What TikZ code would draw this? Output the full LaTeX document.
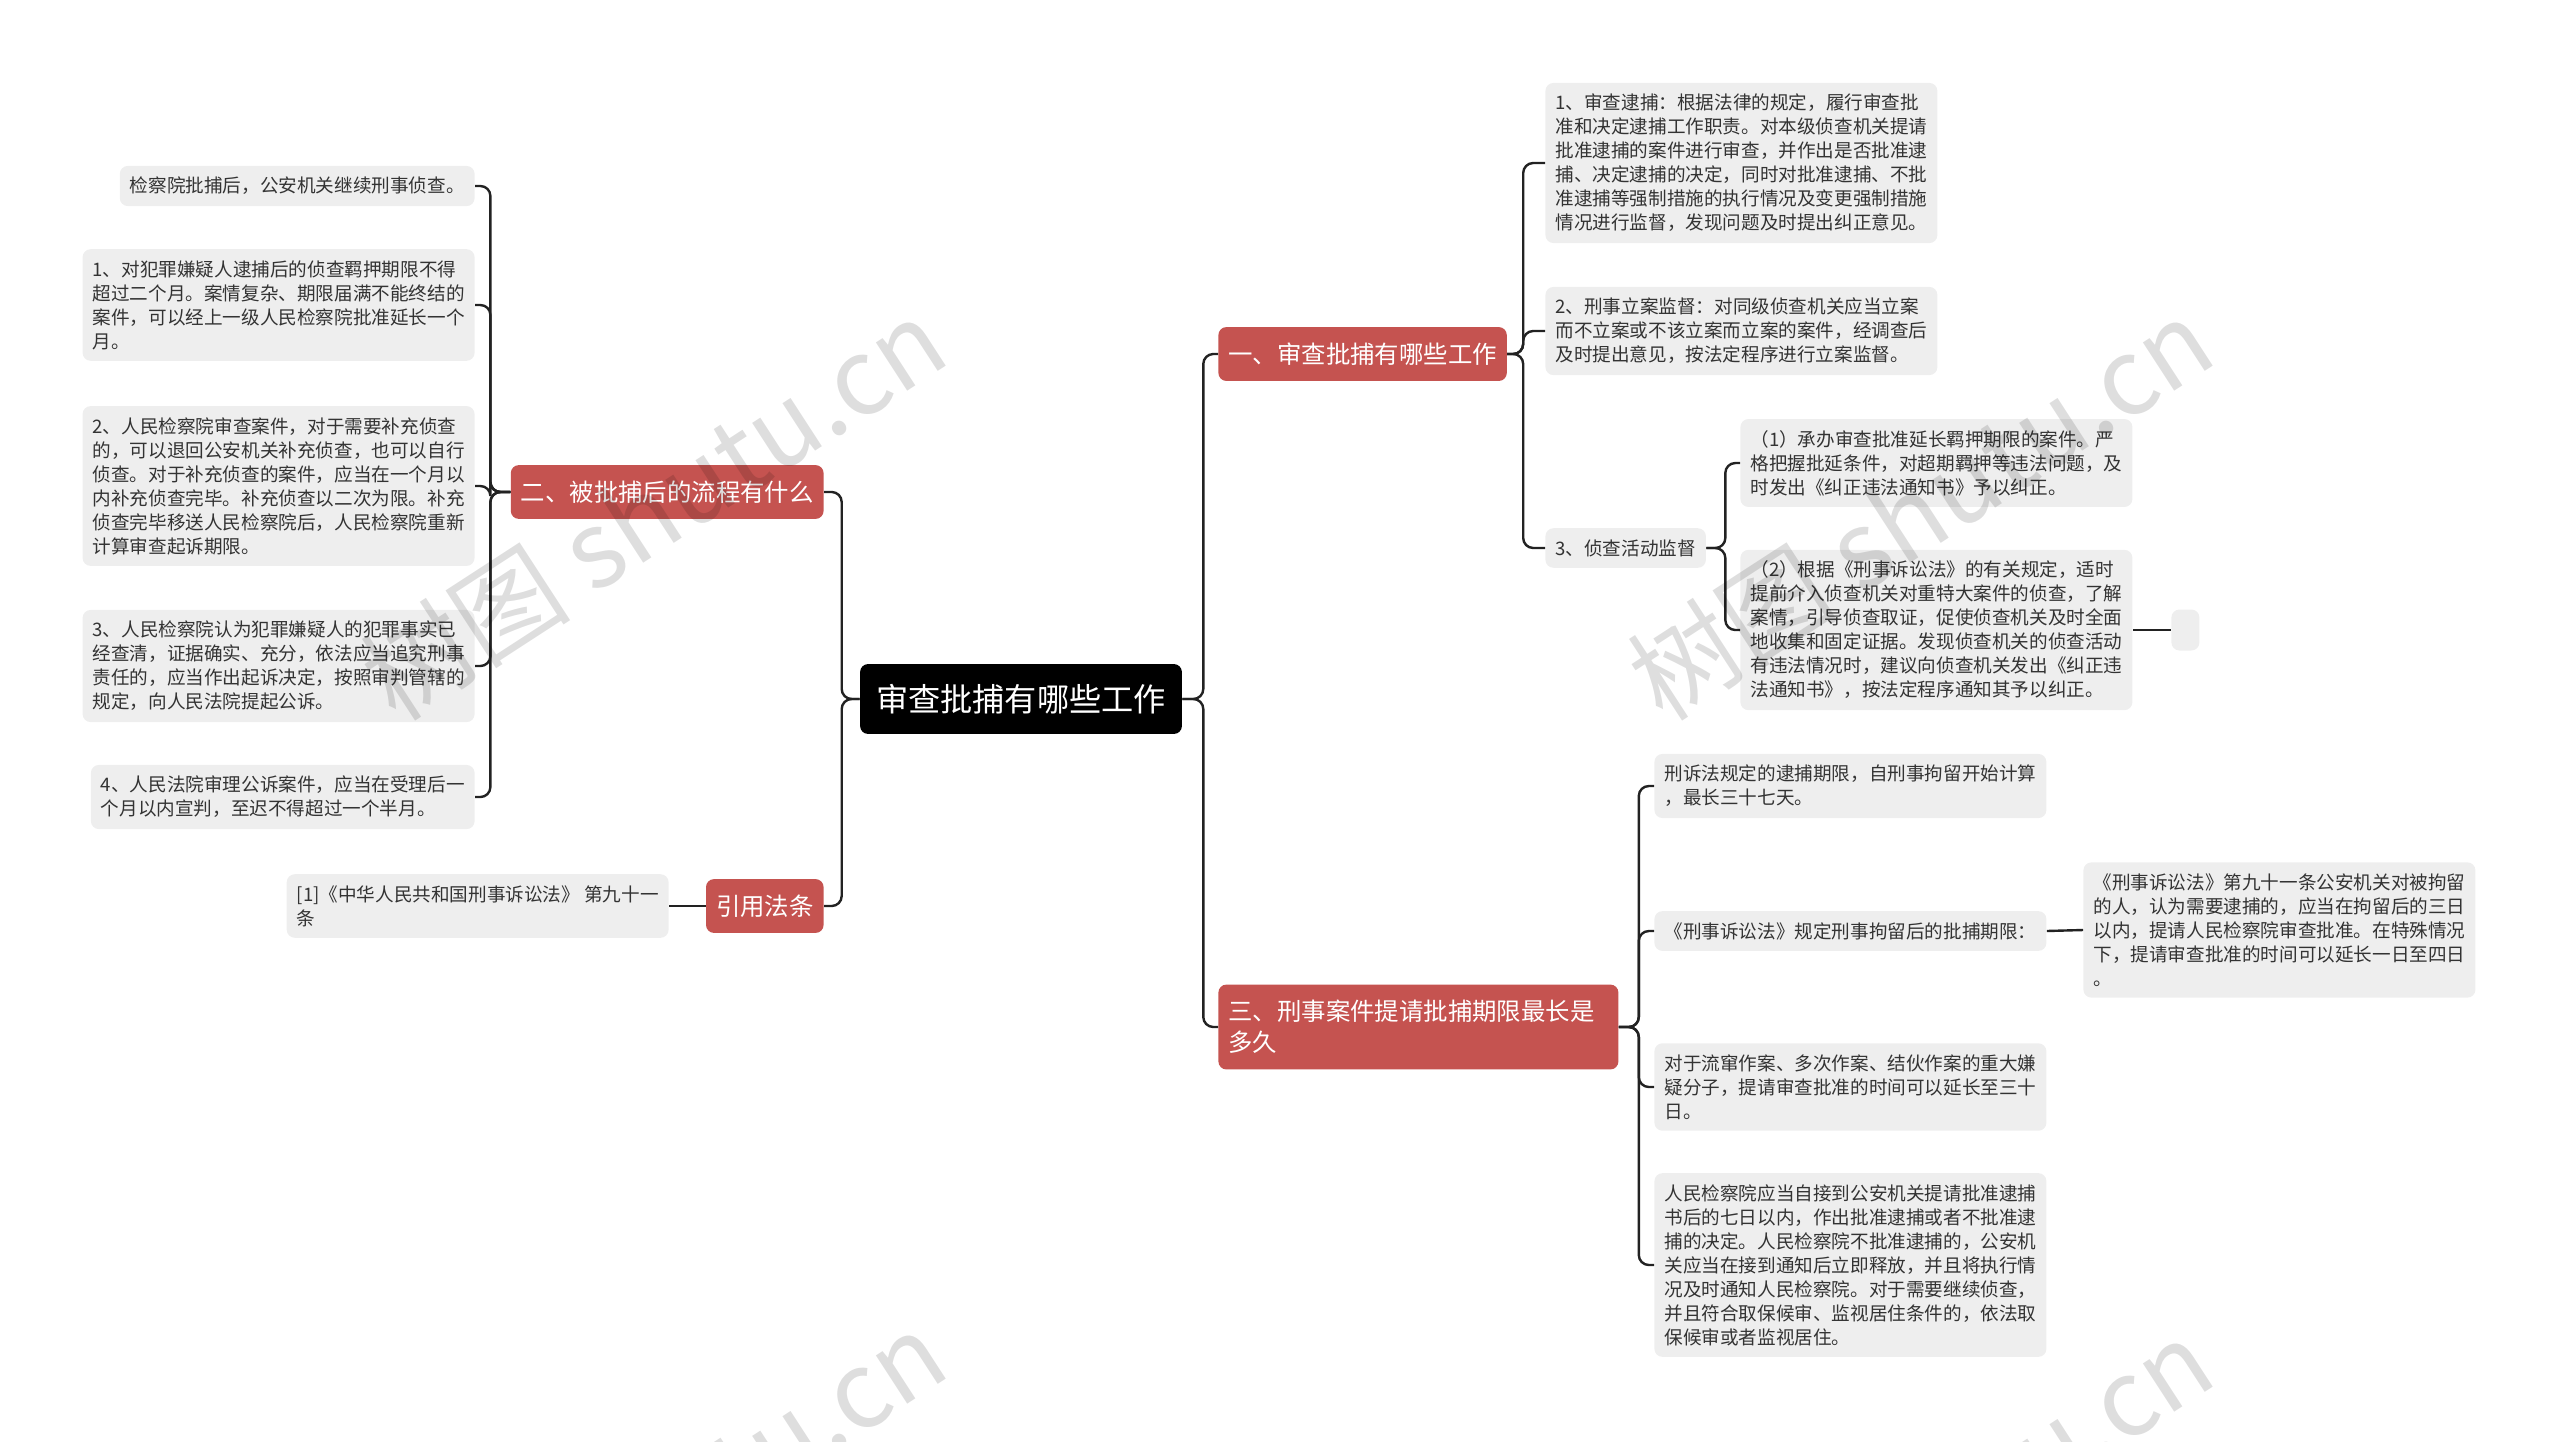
\documentclass[tikz,border=0pt]{standalone}
\usepackage{fontspec}
\setmainfont{Noto Sans CJK SC}
\usetikzlibrary{positioning}
\definecolor{mapRed}{RGB}{197,83,80}
\definecolor{leafGray}{RGB}{238,238,238}
\definecolor{leafText}{RGB}{51,51,51}
\definecolor{linkDark}{RGB}{34,34,34}

\tikzset{
  root/.style={fill=black, text=white, rounded corners=4pt, inner xsep=8pt, inner ysep=10pt,
    font=\fontsize{16.1pt}{19pt}\selectfont},
  branch/.style={fill=mapRed, text=white, rounded corners=4pt, inner xsep=5pt, inner ysep=7.8pt,
    align=left, font=\fontsize{12.2pt}{15.5pt}\selectfont},
  leaf/.style={fill=leafGray, text=leafText, rounded corners=4pt, inner xsep=5pt, inner ysep=5.6pt,
    align=left, font=\fontsize{9.3pt}{12pt}\selectfont},
  link/.style={draw=linkDark, line width=1.2pt, rounded corners=5pt},
  wmark/.style={text=black, opacity=0.13, rotate=33, font=\fontsize{53pt}{53pt}\selectfont}
}

\begin{document}
\begin{tikzpicture}[x=0.5pt, y=-0.5pt]
\useasboundingbox (0,0) rectangle (2560,1441);

% centre and main branches
\node[root] (hub) at (1021,699) {审查批捕有哪些工作};
\node[branch, anchor=west] (work) at (1218,354) {一、审查批捕有哪些工作};
\node[branch, anchor=east] (flow) at (824,492) {二、被批捕后的流程有什么};
\node[branch, anchor=east] (law) at (824,906) {引用法条};
\node[branch, anchor=west, text width=190pt] (limit) at (1218,1027) {三、刑事案件提请批捕期限最长是\\多久};

% left side
\node[leaf, anchor=east] (flow0) at (475,186) {检察院批捕后，公安机关继续刑事侦查。};
\node[leaf, anchor=east] (flow1) at (475,305) {1、对犯罪嫌疑人逮捕后的侦查羁押期限不得\\超过二个月。案情复杂、期限届满不能终结的\\案件，可以经上一级人民检察院批准延长一个\\月。};
\node[leaf, anchor=east] (flow2) at (475,486) {2、人民检察院审查案件，对于需要补充侦查\\的，可以退回公安机关补充侦查，也可以自行\\侦查。对于补充侦查的案件，应当在一个月以\\内补充侦查完毕。补充侦查以二次为限。补充\\侦查完毕移送人民检察院后，人民检察院重新\\计算审查起诉期限。};
\node[leaf, anchor=east] (flow3) at (475,666) {3、人民检察院认为犯罪嫌疑人的犯罪事实已\\经查清，证据确实、充分，依法应当追究刑事\\责任的，应当作出起诉决定，按照审判管辖的\\规定，向人民法院提起公诉。};
\node[leaf, anchor=east] (flow4) at (475,797) {4、人民法院审理公诉案件，应当在受理后一\\个月以内宣判，至迟不得超过一个半月。};
\node[leaf, anchor=east] (lawref) at (669,906) {[1]《中华人民共和国刑事诉讼法》 第九十一\\条};

% right side, upper
\node[leaf, anchor=west] (work1) at (1545,163) {1、审查逮捕：根据法律的规定，履行审查批\\准和决定逮捕工作职责。对本级侦查机关提请\\批准逮捕的案件进行审查，并作出是否批准逮\\捕、决定逮捕的决定，同时对批准逮捕、不批\\准逮捕等强制措施的执行情况及变更强制措施\\情况进行监督，发现问题及时提出纠正意见。};
\node[leaf, anchor=west] (work2) at (1545,331) {2、刑事立案监督：对同级侦查机关应当立案\\而不立案或不该立案而立案的案件，经调查后\\及时提出意见，按法定程序进行立案监督。};
\node[leaf, anchor=west] (work3) at (1545,548) {3、侦查活动监督};
\node[leaf, anchor=west] (watch1) at (1740,463) {（1）承办审查批准延长羁押期限的案件。严\\格把握批延条件，对超期羁押等违法问题，及\\时发出《纠正违法通知书》予以纠正。};
\node[leaf, anchor=west] (watch2) at (1740,630) {（2）根据《刑事诉讼法》的有关规定，适时\\提前介入侦查机关对重特大案件的侦查，了解\\案情，引导侦查取证，促使侦查机关及时全面\\地收集和固定证据。发现侦查机关的侦查活动\\有违法情况时，建议向侦查机关发出《纠正违\\法通知书》，按法定程序通知其予以纠正。};
\node[leaf, anchor=west, minimum width=14pt, minimum height=20.5pt, inner sep=0pt] (blank) at (2171,630) {};

% right side, lower
\node[leaf, anchor=west] (term1) at (1654,786) {刑诉法规定的逮捕期限，自刑事拘留开始计算\\，最长三十七天。};
\node[leaf, anchor=west] (term2) at (1654,931) {《刑事诉讼法》规定刑事拘留后的批捕期限：};
\node[leaf, anchor=west] (art91) at (2083,930) {《刑事诉讼法》第九十一条公安机关对被拘留\\的人，认为需要逮捕的，应当在拘留后的三日\\以内，提请人民检察院审查批准。在特殊情况\\下，提请审查批准的时间可以延长一日至四日\\。};
\node[leaf, anchor=west] (term3) at (1654,1087) {对于流窜作案、多次作案、结伙作案的重大嫌\\疑分子，提请审查批准的时间可以延长至三十\\日。};
\node[leaf, anchor=west] (term4) at (1654,1265) {人民检察院应当自接到公安机关提请批准逮捕\\书后的七日以内，作出批准逮捕或者不批准逮\\捕的决定。人民检察院不批准逮捕的，公安机\\关应当在接到通知后立即释放，并且将执行情\\况及时通知人民检察院。对于需要继续侦查，\\并且符合取保候审、监视居住条件的，依法取\\保候审或者监视居住。};

% connectors
\draw[link] (hub.west) -- ++(-18,0) |- (flow.east);
\draw[link] (hub.west) -- ++(-18,0) |- (law.east);
\draw[link] (hub.east) -- ++(21,0) |- (work.west);
\draw[link] (hub.east) -- ++(21,0) |- (limit.west);
\foreach \n in {flow0,flow1,flow2,flow3,flow4}
  \draw[link] (flow.west) -- ++(-20,0) |- (\n.east);
\draw[link] (law.west) -- (lawref.east);
\foreach \n in {work1,work2,work3}
  \draw[link] (work.east) -- ++(16,0) |- (\n.west);
\foreach \n in {watch1,watch2}
  \draw[link] (work3.east) -- ++(19,0) |- (\n.west);
\draw[link] (watch2.east) -- (blank.west);
\foreach \n in {term1,term2,term3,term4}
  \draw[link] (limit.east) -- ++(20,0) |- (\n.west);
\draw[link] (term2.east) -- (art91.west);

% watermarks
\begin{scope}
\clip (0,0) rectangle (2560,1441);
\node[wmark] (mark1) at (653,509) {树图 shutu.cn};
\node[wmark] (mark2) at (1920,509) {树图 shutu.cn};
\node[wmark] (mark3) at (653,1522) {树图 shutu.cn};
\node[wmark] (mark4) at (1920,1530) {树图 shutu.cn};
\end{scope}
\end{tikzpicture}
\end{document}
